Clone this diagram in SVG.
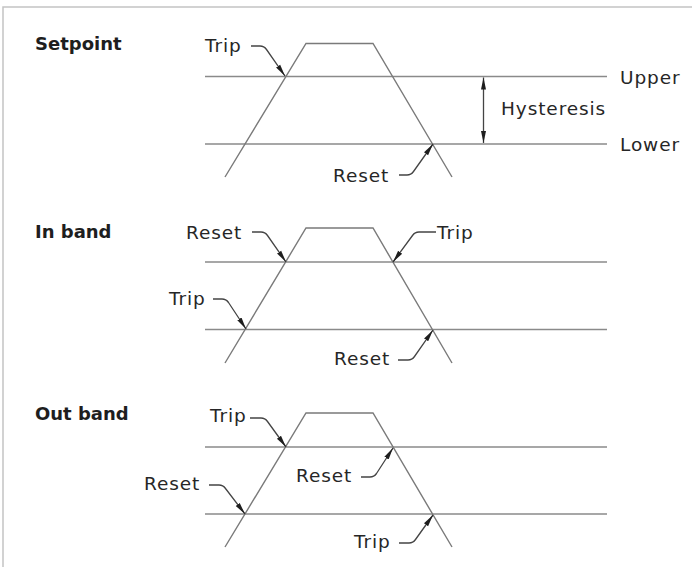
<svg xmlns="http://www.w3.org/2000/svg" width="692" height="567" viewBox="0 0 692 567">
<style>
  .bg { fill: #ffffff; }
  .frame { fill: none; stroke: #c4c4c4; stroke-width: 1.5; }
  .lvl { fill: none; stroke: #8a8a8a; stroke-width: 1.5; }
  .sig { fill: none; stroke: #7a7a7a; stroke-width: 1.4; stroke-linejoin: miter; }
  .lead { fill: none; stroke: #444444; stroke-width: 1.3; }
  .title { font-family: "DejaVu Sans", sans-serif; font-weight: bold; font-size: 18px; fill: #1e1e1e; }
  .lbl { font-family: "DejaVu Sans", sans-serif; font-size: 18.5px; letter-spacing: 0.9px; fill: #262626; }
</style>
<defs>
  <marker id="ah" markerWidth="13" markerHeight="8" refX="12" refY="4" orient="auto-start-reverse" markerUnits="userSpaceOnUse">
    <path d="M0,1.5 L12,4 L0,6.5 z" fill="#1e1e1e"/>
  </marker>
</defs>
<rect class="bg" x="0" y="0" width="692" height="567"/>
<path class="frame" d="M3,567 V7 H692"/>

<g id="panel-setpoint">
  <text class="title" x="35" y="50">Setpoint</text>
  <line class="lvl" x1="205" y1="76.5" x2="607" y2="76.5"/>
  <line class="lvl" x1="205" y1="144" x2="607" y2="144"/>
  <polyline class="sig" points="225,177 306,43.5 373,43.5 452,177"/>
  <g id="sp-upper"><text class="lbl" x="620" y="84">Upper</text></g>
  <g id="sp-lower"><text class="lbl" x="620" y="151">Lower</text></g>
  <g id="sp-hyst"><text class="lbl" x="501" y="115">Hysteresis</text></g>
  <g id="sp-trip"><text class="lbl" x="205" y="52">Trip</text></g>
  <g id="sp-reset"><text class="lbl" x="333" y="182">Reset</text></g>
</g>

<g id="panel-inband">
  <text class="title" x="35" y="238">In band</text>
  <line class="lvl" x1="205" y1="262" x2="607" y2="262"/>
  <line class="lvl" x1="205" y1="329.5" x2="607" y2="329.5"/>
  <polyline class="sig" points="225,363 306,228 373,228 452,363"/>
  <g id="ib-reset1"><text class="lbl" x="186" y="239">Reset</text></g>
  <g id="ib-trip1"><text class="lbl" x="437" y="239">Trip</text></g>
  <g id="ib-trip2"><text class="lbl" x="169" y="305">Trip</text></g>
  <g id="ib-reset2"><text class="lbl" x="334" y="365">Reset</text></g>
</g>

<g id="panel-outband">
  <text class="title" x="35" y="420">Out band</text>
  <line class="lvl" x1="205" y1="447" x2="607" y2="447"/>
  <line class="lvl" x1="205" y1="514" x2="607" y2="514"/>
  <polyline class="sig" points="225,547 306,413 373,413 452,547"/>
  <g id="ob-trip1"><text class="lbl" x="210" y="422">Trip</text></g>
  <g id="ob-reset1"><text class="lbl" x="296" y="482">Reset</text></g>
  <g id="ob-reset2"><text class="lbl" x="144" y="490">Reset</text></g>
  <g id="ob-trip2"><text class="lbl" x="354" y="548">Trip</text></g>
</g>

<g id="connectors">
  <line class="lead" x1="483.5" y1="77.5" x2="483.5" y2="143" marker-start="url(#ah)" marker-end="url(#ah)"/>
  <path class="lead" d="M251,46 H260 Q264,46 266.5,49.5 L285,76" marker-end="url(#ah)"/>
  <path class="lead" d="M399,175 H407 Q411,175 413.5,171.5 L433,144" marker-end="url(#ah)"/>
  <path class="lead" d="M252,232 H261 Q265,232 267.5,235.5 L286,262" marker-end="url(#ah)"/>
  <path class="lead" d="M436,232 H419 Q415,232 412.5,235.5 L393,262" marker-end="url(#ah)"/>
  <path class="lead" d="M213,299 H222 Q226,299 228.5,302.5 L246,329" marker-end="url(#ah)"/>
  <path class="lead" d="M398,360 H408 Q412,360 414.5,356.5 L433,330" marker-end="url(#ah)"/>
  <path class="lead" d="M250,418 H261 Q265,418 267.5,421.5 L286,447" marker-end="url(#ah)"/>
  <path class="lead" d="M361,477 H370 Q374,477 376.5,473.5 L393,448" marker-end="url(#ah)"/>
  <path class="lead" d="M209,485 H219 Q223,485 225.5,488.5 L245,514" marker-end="url(#ah)"/>
  <path class="lead" d="M399,543 H409 Q413,543 415.5,539.5 L433,515" marker-end="url(#ah)"/>
</g>
</svg>
